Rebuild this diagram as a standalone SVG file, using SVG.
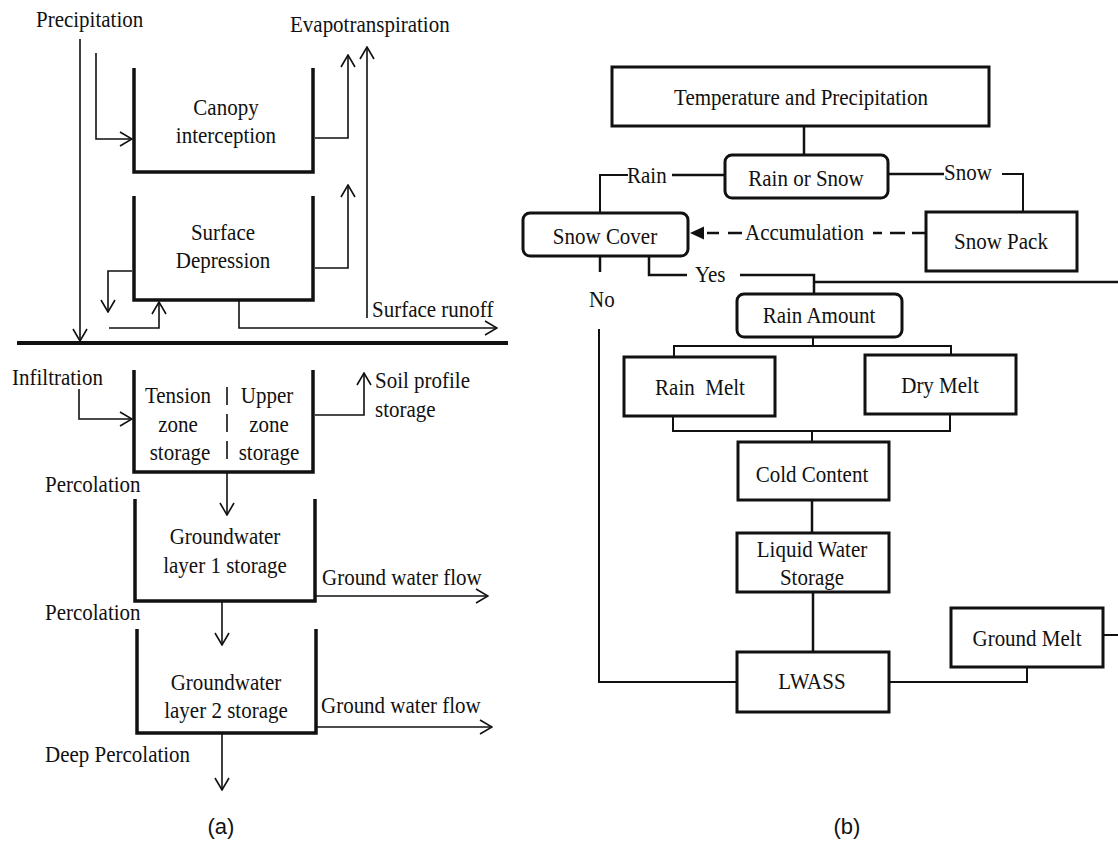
<svg xmlns="http://www.w3.org/2000/svg" width="1118" height="843" viewBox="0 0 1118 843">
<style>
text{font-family:"Liberation Serif","Times New Roman",serif;font-size:21px;fill:#111;transform-box:fill-box;transform-origin:50% 80%;transform:scaleY(1.12)}
.c{text-anchor:middle}
.cap{font-family:"Liberation Sans",Arial,sans-serif;font-size:22px;text-anchor:middle;transform:none}
.bucket{fill:none;stroke:#111;stroke-width:3.5}
.arr{fill:none;stroke:#111;stroke-width:1.6;marker-end:url(#open)}
.box{fill:#fff;stroke:#111;stroke-width:3}
.ln{fill:none;stroke:#111;stroke-width:2.5}
.ln2{fill:none;stroke:#111;stroke-width:2}
</style>
<defs>
<marker id="open" viewBox="0 0 14 16" refX="13" refY="8" markerWidth="14" markerHeight="16" markerUnits="userSpaceOnUse" orient="auto">
<path d="M1,1 L13,8 L1,15" fill="none" stroke="#111" stroke-width="1.6"/>
</marker>
</defs>
<rect width="1118" height="843" fill="#fff"/>

<!-- Panel (a) -->
<g id="ground"><line x1="17" y1="343" x2="508" y2="343" stroke="#111" stroke-width="4"/></g>
<g id="precipitation"><text x="36" y="27">Precipitation</text></g>
<g id="evapotranspiration"><text x="290" y="32">Evapotranspiration</text></g>
<g id="canopy">
<path class="bucket" d="M134,68 V172 H313 V68"/>
<text class="c" x="226" y="115">Canopy</text>
<text class="c" x="226" y="143">interception</text>
</g>
<g id="surface-depression">
<path class="bucket" d="M134,196 V300 H313 V196"/>
<text class="c" x="223" y="240">Surface</text>
<text class="c" x="223" y="268">Depression</text>
</g>
<g id="surface-runoff"><text x="372" y="317">Surface runoff</text></g>
<g id="infiltration"><text x="12" y="385">Infiltration</text></g>
<g id="soil-zone">
<path class="bucket" d="M134,370 V472 H313 V370"/>
<line x1="227" y1="387" x2="227" y2="460" stroke="#111" stroke-width="1.6" stroke-dasharray="18,9"/>
<text class="c" x="178" y="403">Tension</text>
<text class="c" x="178" y="432">zone</text>
<text class="c" x="180" y="460">storage</text>
<text class="c" x="267" y="403">Upper</text>
<text class="c" x="269" y="432">zone</text>
<text class="c" x="269" y="460">storage</text>
</g>
<g id="soil-profile">
<text x="375" y="388">Soil profile</text>
<text x="375" y="417">storage</text>
</g>
<g id="percolation1"><text x="45" y="492">Percolation</text></g>
<g id="gw1">
<path class="bucket" d="M135,499 V601 H315 V499"/>
<text class="c" x="225" y="544">Groundwater</text>
<text class="c" x="225" y="573">layer 1 storage</text>
</g>
<g id="gwflow1"><text x="322" y="585">Ground water flow</text></g>
<g id="percolation2"><text x="45" y="620">Percolation</text></g>
<g id="gw2">
<path class="bucket" d="M137,629 V733 H316 V629"/>
<text class="c" x="226" y="690">Groundwater</text>
<text class="c" x="226" y="718">layer 2 storage</text>
</g>
<g id="gwflow2"><text x="321" y="713">Ground water flow</text></g>
<g id="deep-percolation"><text x="45" y="762">Deep Percolation</text></g>
<g id="label-a"><text class="cap" x="221" y="834">(a)</text></g>

<g id="connectors-a">
<path class="arr" d="M80,39 V341"/>
<path class="arr" d="M96,53 V139 H132"/>
<path class="arr" d="M315,138 H348 V55"/>
<path class="arr" d="M367,318 V47"/>
<path class="arr" d="M315,268 H348 V185"/>
<path class="arr" d="M132,271 H108 V312"/>
<path class="arr" d="M109,328 H159 V302"/>
<path class="arr" d="M239,300 V328 H497"/>
<path class="arr" d="M79,389 V419 H132"/>
<path class="arr" d="M315,415 H364 V373"/>
<path class="arr" d="M227,472 V515"/>
<path class="arr" d="M315,596 H488"/>
<path class="arr" d="M222,601 V645"/>
<path class="arr" d="M316,727 H492"/>
<path class="arr" d="M222,733 V790"/>
</g>

<!-- Panel (b) -->
<g id="connectors-b">
<path class="ln" d="M804,126 V155"/>
<path class="ln" d="M725,175 H672"/>
<path class="ln2" d="M628,175 H600 V213"/>
<path class="ln" d="M888,174 H944"/>
<path class="ln2" d="M1002,174 H1023 V212"/>
<path class="ln" d="M873,233 H882 M890,233 H905 M912,233 H926 M707,233 H719 M728,233 H742"/>
<polygon points="690,233 704,226.5 704,239.5" fill="#111"/>
<path class="ln" d="M600,256 V272"/>
<path class="ln2" d="M599,329 V682 H737"/>
<path class="ln" d="M649,256 V275 H687"/>
<path class="ln" d="M740,275 H814 V294"/>
<path class="ln" d="M814,282 H1118"/>
<path class="ln2" d="M813,337 V346"/>
<path class="ln2" d="M674,357 V346 H951 V355"/>
<path class="ln2" d="M673,416 V431 H950 V414"/>
<path class="ln2" d="M812,431 V442"/>
<path class="ln" d="M812,500 V533"/>
<path class="ln" d="M813,592 V652"/>
<path class="ln2" d="M889,682 H1027 V667"/>
<path class="ln2" d="M1103,635 H1118"/>
</g>
<g id="temp-precip">
<rect class="box" x="612" y="67" width="377" height="59"/>
<text class="c" x="801" y="105">Temperature and Precipitation</text>
</g>
<g id="rain-or-snow">
<rect class="box" x="725" y="155" width="163" height="43" rx="7"/>
<text class="c" x="806" y="186">Rain or Snow</text>
</g>
<g id="label-rain"><text x="627" y="183">Rain</text></g>
<g id="label-snow"><text x="944" y="180">Snow</text></g>
<g id="snow-cover">
<rect class="box" x="523" y="213" width="165" height="43" rx="7"/>
<text class="c" x="605" y="244">Snow Cover</text>
</g>
<g id="snow-pack">
<rect class="box" x="926" y="212" width="151" height="59"/>
<text class="c" x="1001" y="249">Snow Pack</text>
</g>
<g id="label-accumulation"><text x="745" y="240">Accumulation</text></g>
<g id="label-yes"><text x="695" y="282">Yes</text></g>
<g id="label-no"><text x="589" y="307">No</text></g>
<g id="rain-amount">
<rect class="box" x="737" y="294" width="165" height="43" rx="7"/>
<text class="c" x="819" y="323">Rain Amount</text>
</g>
<g id="rain-melt">
<rect class="box" x="624" y="357" width="151" height="59"/>
<text class="c" x="700" y="395" xml:space="preserve">Rain  Melt</text>
</g>
<g id="dry-melt">
<rect class="box" x="865" y="355" width="151" height="59"/>
<text class="c" x="940" y="393">Dry Melt</text>
</g>
<g id="cold-content">
<rect class="box" x="738" y="442" width="151" height="58"/>
<text class="c" x="812" y="482">Cold Content</text>
</g>
<g id="liquid-water-storage">
<rect class="box" x="737" y="533" width="152" height="59"/>
<text class="c" x="812" y="557">Liquid Water</text>
<text class="c" x="812" y="585">Storage</text>
</g>
<g id="lwass">
<rect class="box" x="737" y="652" width="152" height="60"/>
<text class="c" x="812" y="689">LWASS</text>
</g>
<g id="ground-melt">
<rect class="box" x="951" y="608" width="152" height="59"/>
<text class="c" x="1027" y="646">Ground Melt</text>
</g>
<g id="label-b"><text class="cap" x="847" y="834">(b)</text></g>
</svg>
